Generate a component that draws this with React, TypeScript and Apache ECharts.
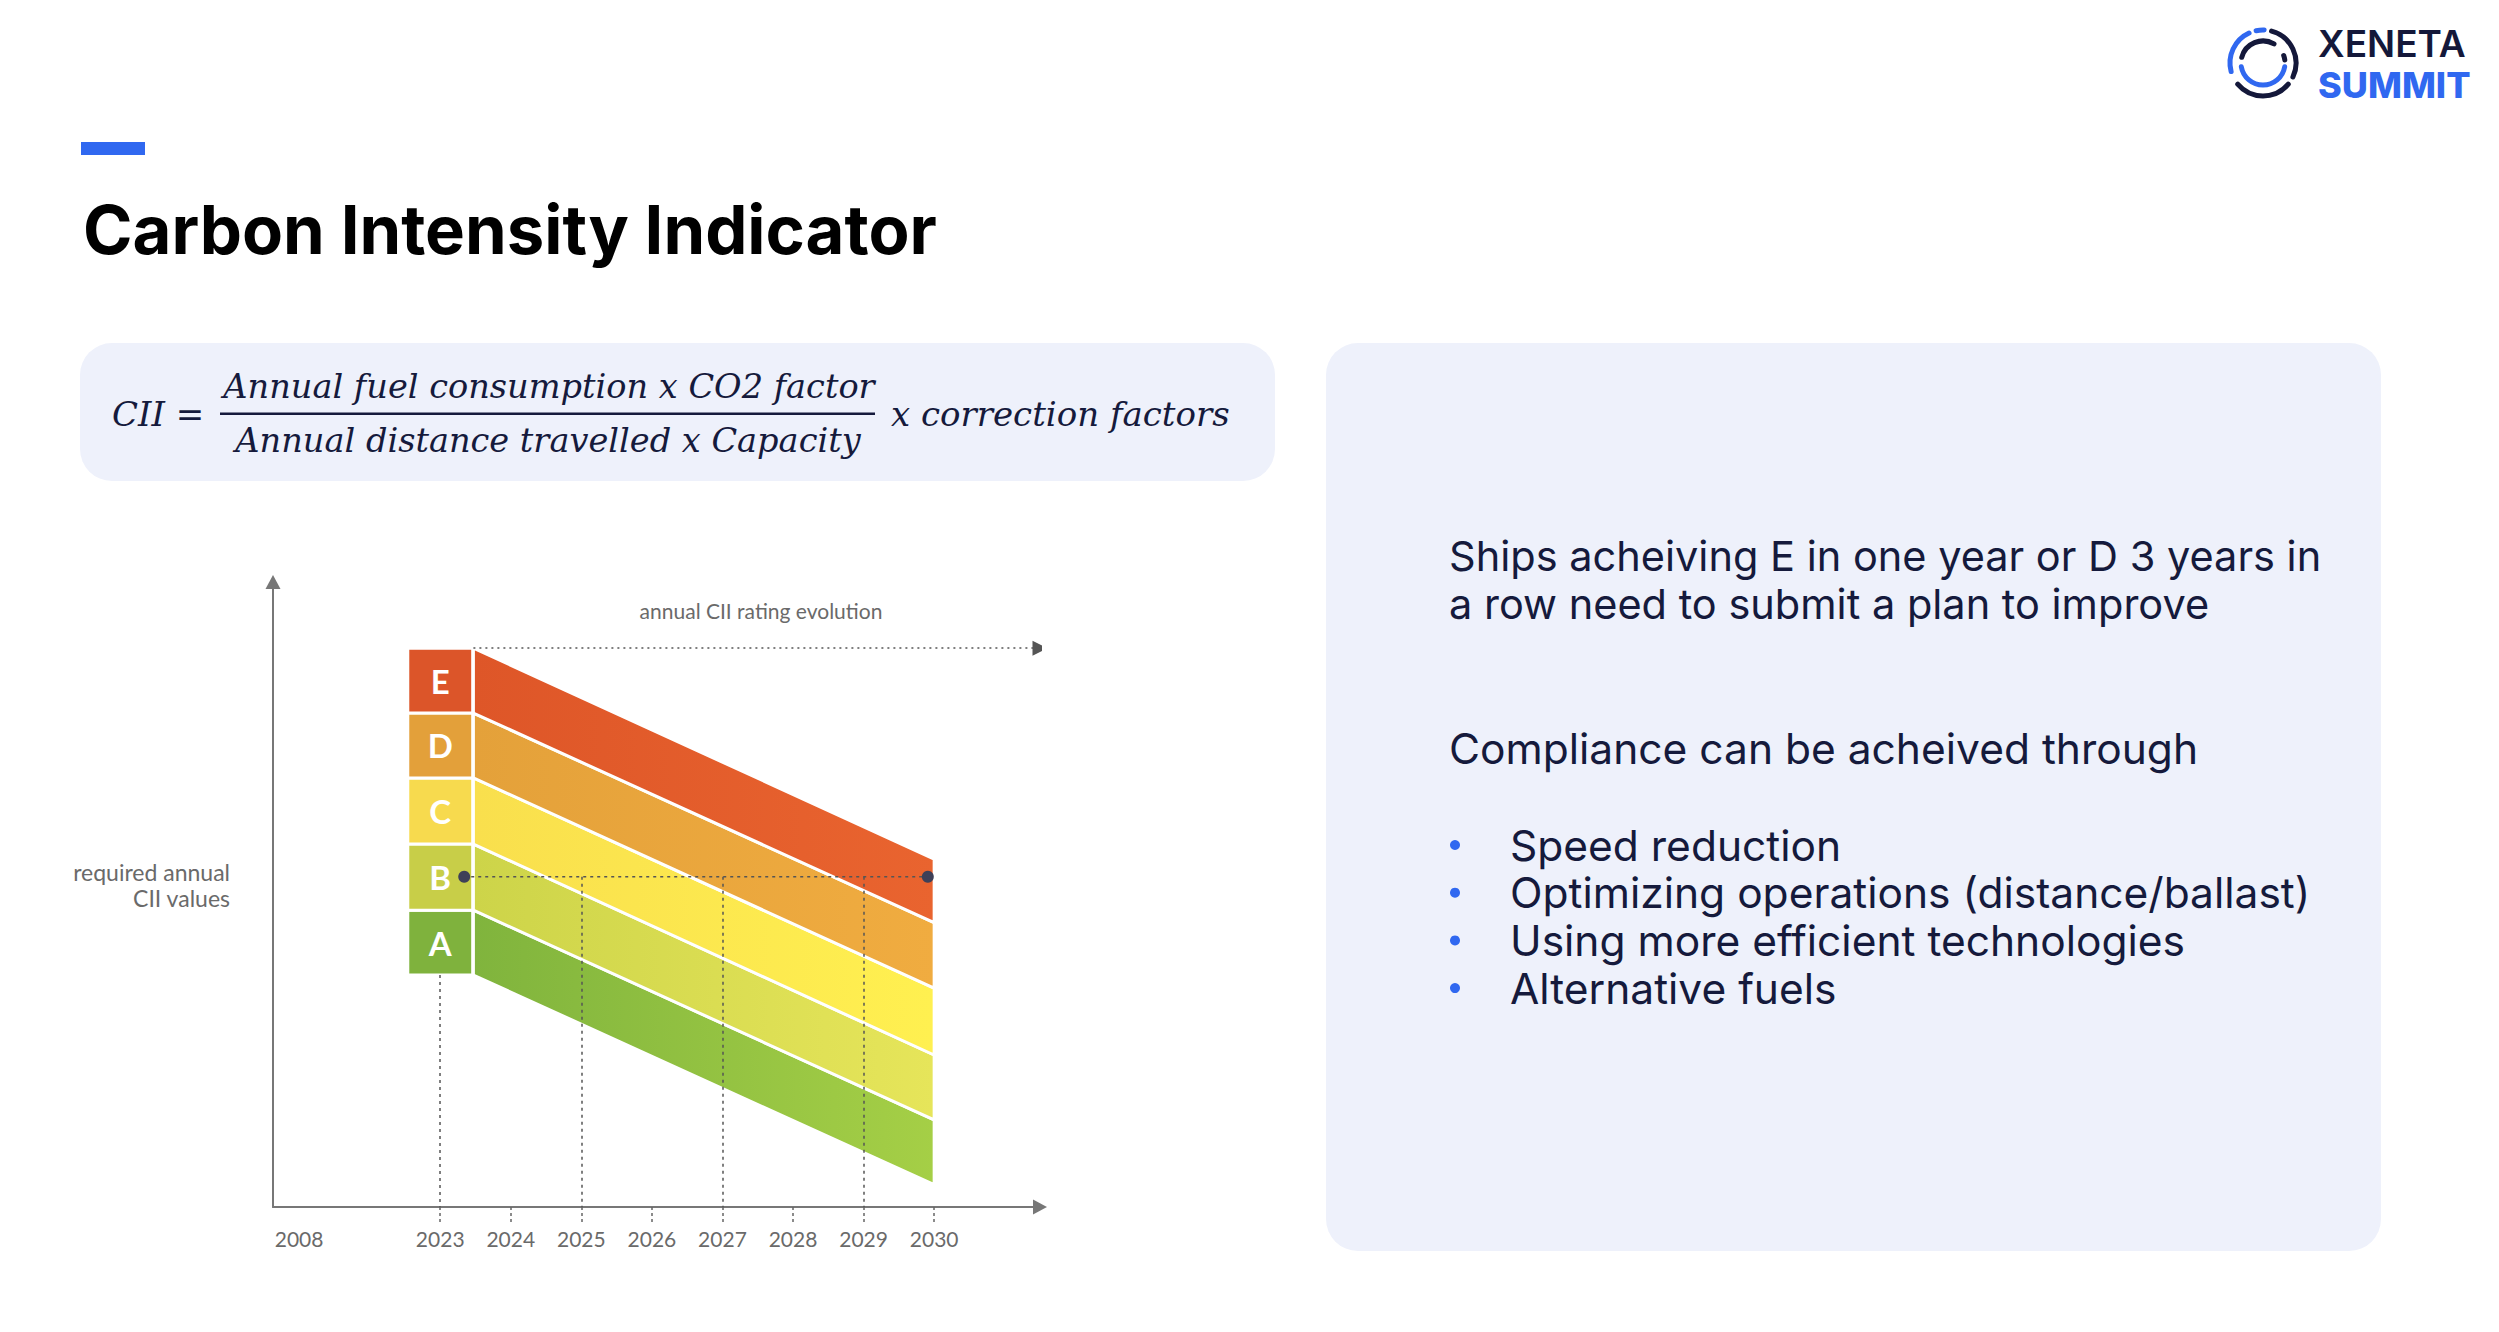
import React, { useEffect, useRef } from "react";
import * as echarts from "echarts";

// ---------- data ----------
const years = [2023, 2024, 2025, 2026, 2027, 2028, 2029, 2030];
const axisLabelYears = [2008, 2023, 2024, 2025, 2026, 2027, 2028, 2029, 2030];
// the axis is broken between 2008 and 2023: 2008 is drawn at the slot of 2021
const axisPos = (y: number) => (y === 2008 ? 2021 : y);

const ratings = ["A", "B", "C", "D", "E"];
const boxColors = ["#7FB23D", "#C8CE48", "#F7DA4E", "#E3A03A", "#DC5529"];
const bandColorsStart = ["#80B43D", "#CDD449", "#F9DF4D", "#E4A13A", "#DE5628"];
const bandColorsEnd = ["#A5CF46", "#E6E55A", "#FFF050", "#F0AC40", "#E9642F"];

const bandStartYear = 2023.47;
const bandEndYear = 2030;
const boxHalfWidth = 0.46;
// required annual CII boundaries (A low ... E high)
const ciiBoundsStart = [35.4, 45.3, 55.4, 65.5, 75.4, 85.3];
const ciiBoundsEnd = [3.4, 13.3, 23.2, 33.4, 43.4, 53.1];

const refLevel = 50.4; // B rating value at 2023
const refPoints = [
  [2023.34, 50.4],
  [2029.91, 50.4],
];
const dropYears = [2025, 2027, 2029];
const evolutionEndYear = 2031.5;

const bullets = [
  "Speed reduction",
  "Optimizing operations (distance/ballast)",
  "Using more efficient technologies",
  "Alternative fuels",
];

const NAVY = "#151A3C";
const BLUE = "#3068F0";
const GRAY = "#6A6A6A";

export default function App() {
  const ref = useRef<HTMLDivElement>(null);

  useEffect(() => {
    document.body.style.margin = "0";
    if (!ref.current) return;
    const chart = echarts.init(ref.current, undefined, { renderer: "svg" });

    const bandData = ratings.map((r, i) => [
      bandStartYear,
      ciiBoundsStart[i],
      bandEndYear,
      ciiBoundsEnd[i],
      ciiBoundsStart[i + 1],
      ciiBoundsEnd[i + 1],
      i,
    ]);
    const boxData = ratings.map((r, i) => [
      years[0] - boxHalfWidth,
      ciiBoundsStart[i],
      years[0] + boxHalfWidth,
      ciiBoundsStart[i + 1],
      i,
    ]);

    const deg = Math.PI / 180;
    const arc = (r: number, a0: number, a1: number, color: string) => ({
      type: "arc",
      shape: { cx: 2263, cy: 63, r, startAngle: a0 * deg, endAngle: a1 * deg, clockwise: true },
      style: { stroke: color, lineWidth: 5, fill: "none", lineCap: "round" },
    });

    const txt = (
      text: string,
      x: number,
      y: number,
      font: string,
      fill: string,
      align = "left",
      lineHeight?: number
    ) => ({
      type: "text",
      x,
      y,
      style: { text, font, fill, align, verticalAlign: "middle", ...(lineHeight ? { lineHeight } : {}) },
    });

    const graphic: any[] = [
      // header bar + title
      { type: "rect", shape: { x: 81, y: 142, width: 64, height: 13 }, style: { fill: BLUE } },
      txt("Carbon Intensity Indicator", 83, 229, "bold 67px Inter", "#000"),
      // logo
      arc(33, 165, 245, BLUE),
      arc(33, 258, 272, BLUE),
      arc(33, 285, 385, "#14183A"),
      arc(33, 40, 140, "#14183A"),
      arc(22, 195, 300, "#14183A"),
      arc(22, 10, 170, BLUE),
      arc(22, 340, 352, "#14183A"),
      txt("XENETA", 2318, 43, "600 37px Inter", "#14183A", "left", 38),
      txt("SUMMIT", 2318, 85, "800 36px Inter", BLUE, "left", 38),
      // formula box
      { type: "rect", shape: { x: 80, y: 343, width: 1195, height: 138, r: 32 }, style: { fill: "#EEF1FB" } },
      txt("CII =", 112, 414, "italic 34px 'DejaVu Serif'", NAVY),
      txt("Annual fuel consumption x CO2 factor", 549, 386, "italic 33.6px 'DejaVu Serif'", NAVY, "center"),
      { type: "rect", shape: { x: 220, y: 412.5, width: 655, height: 2.5 }, style: { fill: NAVY } },
      txt("Annual distance travelled x Capacity", 548, 440, "italic 33.6px 'DejaVu Serif'", NAVY, "center"),
      txt("x correction factors", 891, 414, "italic 34px 'DejaVu Serif'", NAVY),
      // right panel
      { type: "rect", shape: { x: 1326, y: 343, width: 1055, height: 908, r: 32 }, style: { fill: "#EEF1FB" } },
      txt("Ships acheiving E in one year or D 3 years in", 1449, 556, "41.5px Inter", NAVY),
      txt("a row need to submit a plan to improve", 1449, 604, "41.5px Inter", NAVY),
      txt("Compliance can be acheived through", 1449, 748, "42.5px Inter", NAVY),
      // chart annotations
      txt("annual CII rating evolution", 761, 610, "21px Lato", GRAY, "center"),
      txt("required annual\nCII values", 230, 885, "23px Lato", GRAY, "right", 26),
    ];
    bullets.forEach((b, i) => {
      const y = 845 + i * 47.7;
      graphic.push({ type: "circle", shape: { cx: 1455, cy: y, r: 5 }, style: { fill: BLUE } });
      graphic.push(txt(b, 1510, y, "42.5px Inter", NAVY));
    });

    const option: any = {
      animation: false,
      backgroundColor: "#ffffff",
      grid: { left: 273, right: 1459, top: 582, bottom: 125, outerBoundsMode: "none" },
      xAxis: {
        type: "value",
        min: 2020.63,
        max: 2031.5,
        axisLine: {
          show: true,
          lineStyle: { color: "#777", width: 2 },
          symbol: ["none", "triangle"],
          symbolSize: [15, 14],
        },
        axisTick: {
          show: true,
          customValues: years,
          length: 15,
          lineStyle: { color: "#666", type: [3, 3], width: 1.5 },
        },
        axisLabel: {
          show: true,
          customValues: axisLabelYears.map(axisPos),
          formatter: (v: number) => {
            const i = axisLabelYears.map(axisPos).indexOf(Math.round(v));
            return i >= 0 ? String(axisLabelYears[i]) : "";
          },
          color: GRAY,
          fontFamily: "Lato",
          fontSize: 21,
          margin: 21,
        },
        splitLine: { show: false },
      },
      yAxis: {
        type: "value",
        min: 0,
        max: 95.4,
        axisLine: {
          show: true,
          lineStyle: { color: "#777", width: 2 },
          symbol: ["none", "triangle"],
          symbolSize: [15, 14],
        },
        axisTick: { show: false },
        axisLabel: { show: false },
        splitLine: { show: false },
      },
      graphic,
      series: [
        {
          type: "custom",
          name: "CII bands",
          z: 2,
          encode: { x: [0, 2], y: [1, 3, 4, 5] },
          data: bandData,
          renderItem: (params: any, api: any) => {
            const i = api.value(6);
            const p1 = api.coord([api.value(0), api.value(1)]);
            const p2 = api.coord([api.value(2), api.value(3)]);
            const p3 = api.coord([api.value(2), api.value(5)]);
            const p4 = api.coord([api.value(0), api.value(4)]);
            return {
              type: "polygon",
              shape: { points: [p1, p2, p3, p4] },
              style: {
                fill: new echarts.graphic.LinearGradient(0, 0, 1, 0, [
                  { offset: 0, color: bandColorsStart[i] },
                  { offset: 1, color: bandColorsEnd[i] },
                ]),
                stroke: "#ffffff",
                lineWidth: 3,
              },
            };
          },
        },
        {
          type: "custom",
          name: "Rating boxes",
          z: 2,
          encode: { x: [0, 2], y: [1, 3] },
          data: boxData,
          renderItem: (params: any, api: any) => {
            const i = api.value(4);
            const a = api.coord([api.value(0), api.value(3)]);
            const b = api.coord([api.value(2), api.value(1)]);
            return {
              type: "rect",
              shape: { x: a[0], y: a[1], width: b[0] - a[0], height: b[1] - a[1] },
              style: { fill: boxColors[i], stroke: "#ffffff", lineWidth: 3 },
              textContent: {
                style: { text: ratings[i], fill: "#ffffff", font: "bold 33px Lato" },
              },
              textConfig: { position: "inside" },
            };
          },
        },
        {
          type: "lines",
          name: "evolution",
          coordinateSystem: "cartesian2d",
          z: 3,
          symbol: ["none", "triangle"],
          symbolSize: 15,
          lineStyle: { color: "#555", width: 1.5, type: [2, 4], opacity: 1 },
          data: [{ coords: [[bandStartYear, ciiBoundsStart[5]], [evolutionEndYear, ciiBoundsStart[5]]] }],
        },
        {
          type: "lines",
          name: "drops",
          coordinateSystem: "cartesian2d",
          z: 4,
          symbol: "none",
          lineStyle: { color: "#555", width: 1.5, type: [3, 4], opacity: 1 },
          data: [
            { coords: [[years[0], ciiBoundsStart[0]], [years[0], 0]] },
            ...dropYears.map((y) => ({ coords: [[y, refLevel], [y, 0]] })),
          ],
        },
        {
          type: "line",
          name: "reference",
          z: 5,
          data: refPoints,
          symbol: "circle",
          symbolSize: 12,
          showSymbol: true,
          itemStyle: { color: "#3E4058" },
          lineStyle: { color: "#555", width: 1.5, type: [3, 4] },
        },
      ],
    };

    chart.setOption(option);
    return () => chart.dispose();
  }, []);

  return <div ref={ref} style={{ width: 2499, height: 1332 }} />;
}
